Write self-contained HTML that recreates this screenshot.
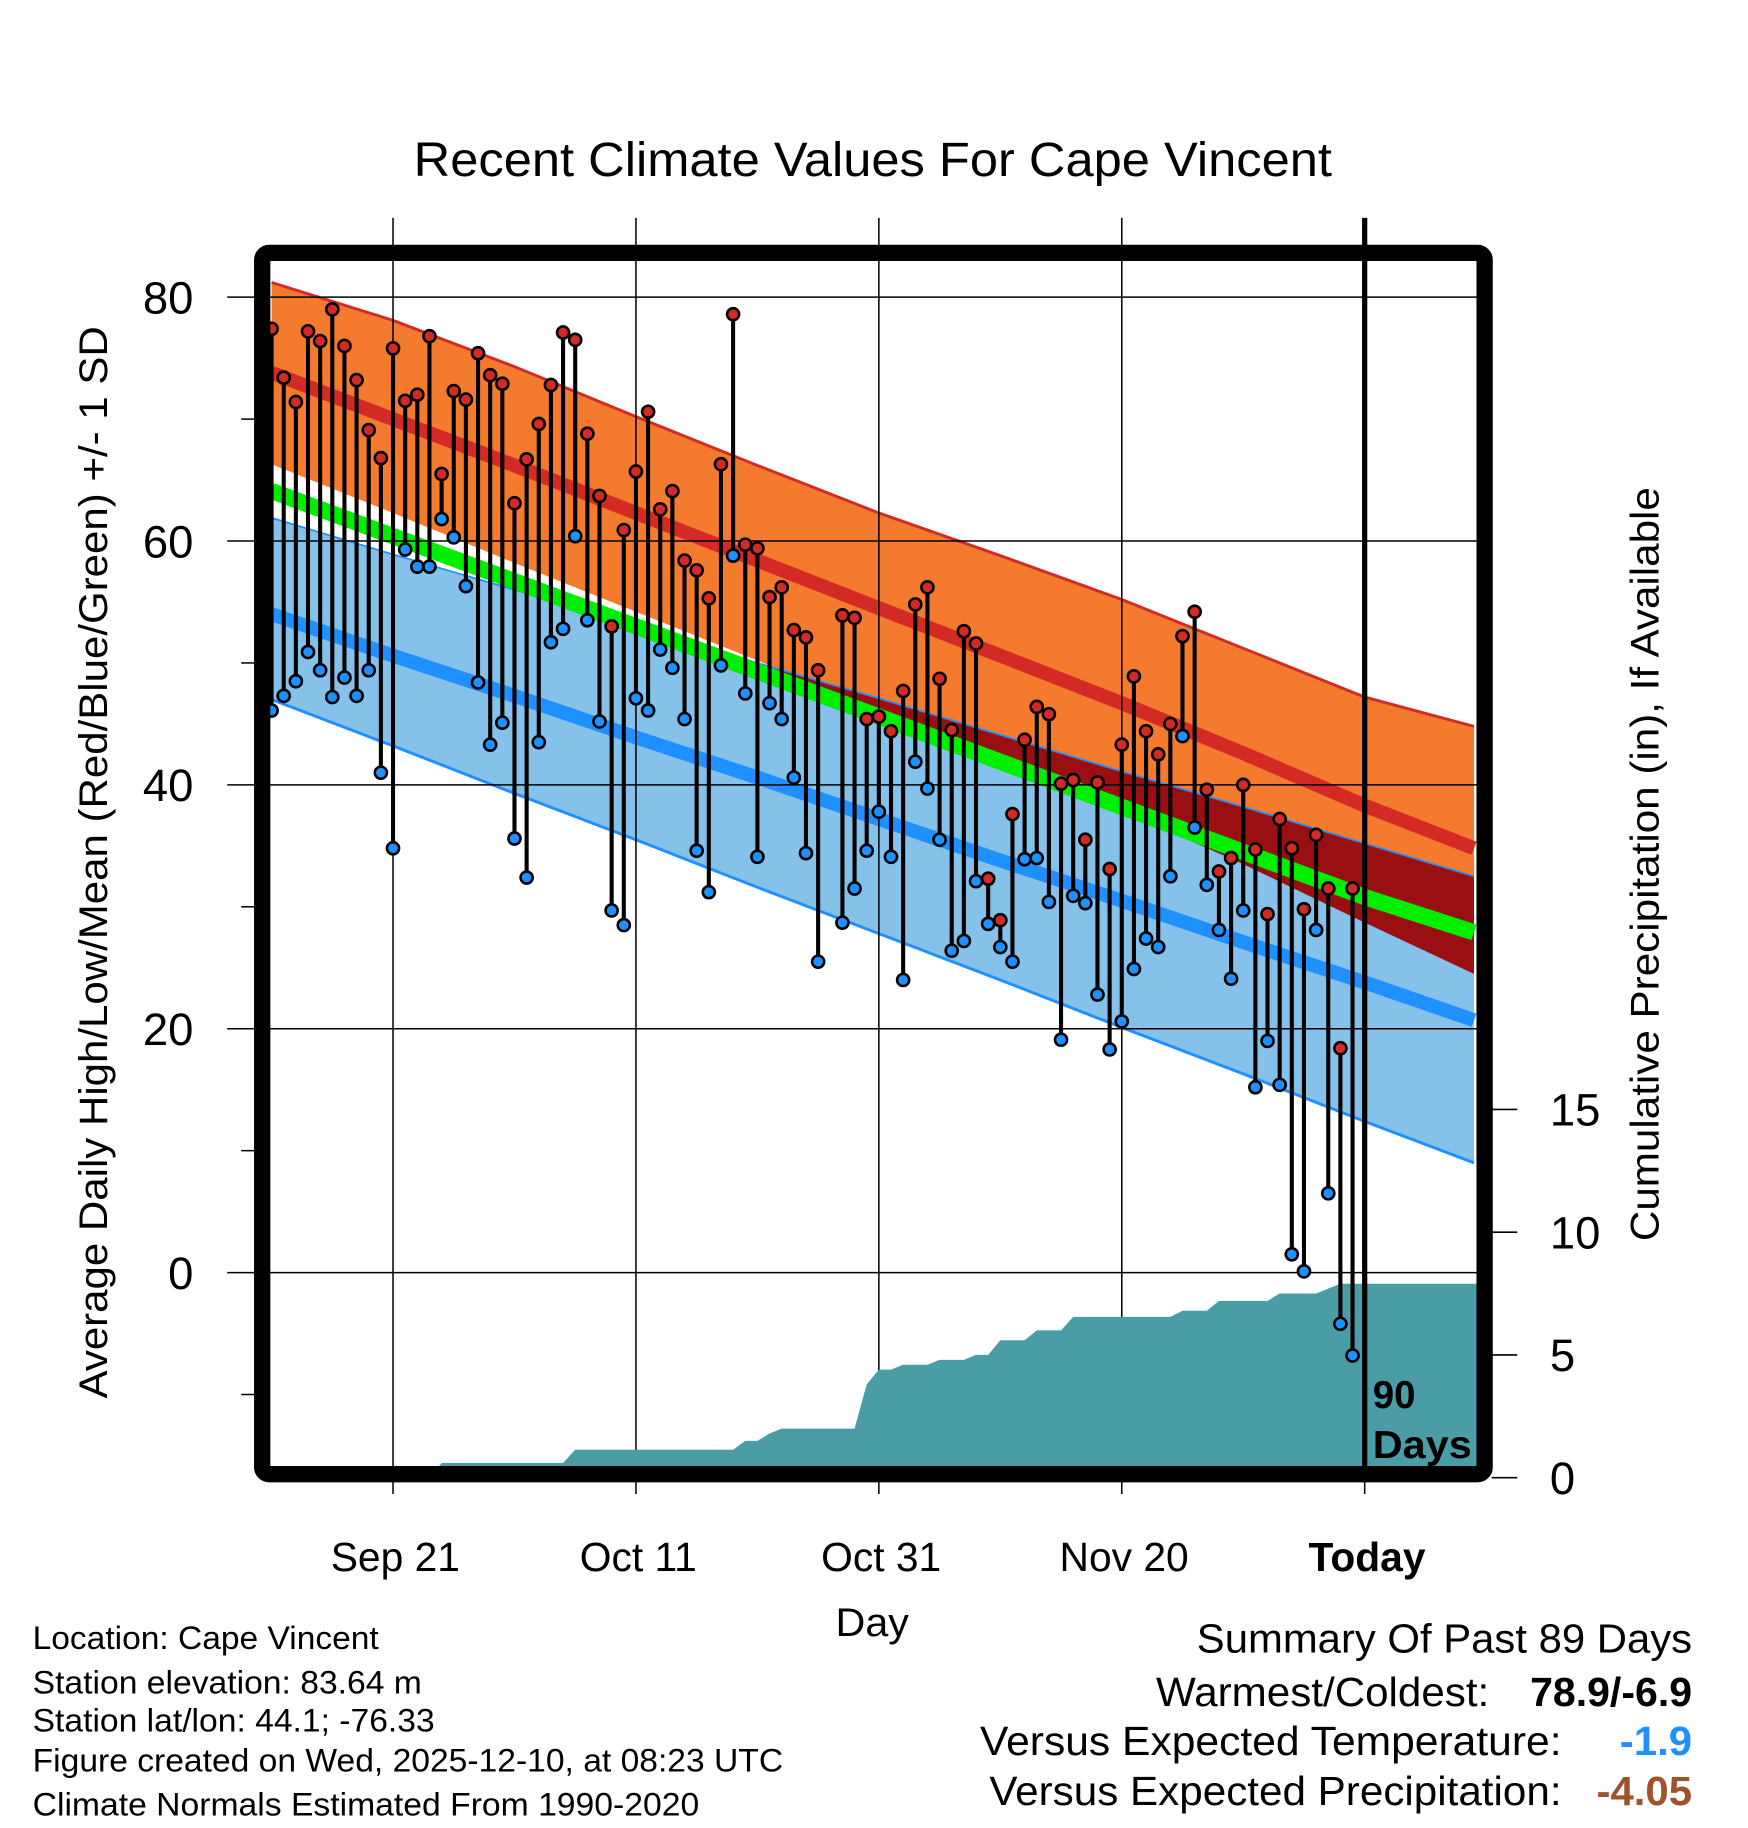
<!DOCTYPE html>
<html><head><meta charset="utf-8"><style>
html,body{margin:0;padding:0;background:#fff;}
svg{display:block;font-family:"Liberation Sans",Arial,sans-serif;}
</style></head><body>
<svg id="chart" width="1748" height="1828" viewBox="0 0 1500 1568.6" preserveAspectRatio="none" xmlns="http://www.w3.org/2000/svg">
<g id="bands"></g><g id="grid"></g><g id="precip"></g><g id="marks"></g><g id="frame"></g><g id="labels"></g>
</svg>
<script>
// ---- data ----
const highs=[77.4,73.4,71.4,77.2,76.4,79.0,76.0,73.2,69.1,66.8,75.8,71.5,72.0,76.8,65.5,72.3,71.6,75.4,73.6,72.9,63.1,66.7,69.6,72.8,77.1,76.5,68.8,63.7,53.0,60.9,65.7,70.6,62.6,64.1,58.4,57.6,55.3,66.3,78.6,59.7,59.4,55.4,56.2,52.7,52.1,49.4,null,53.9,53.7,45.4,45.6,44.4,47.7,54.8,56.2,48.7,44.5,52.6,51.6,32.3,28.9,37.6,43.7,46.4,45.8,40.1,40.4,35.5,40.2,33.1,43.3,48.9,44.4,42.5,45.0,52.2,54.2,39.6,32.9,34.0,40.0,34.7,29.4,37.2,34.8,29.8,35.9,31.5,18.4,31.5];
const lows=[46.1,47.3,48.5,50.9,49.4,47.2,48.8,47.3,49.4,41.0,34.8,59.3,57.9,57.9,61.8,60.3,56.3,48.4,43.3,45.1,35.6,32.4,43.5,51.7,52.8,60.4,53.5,45.2,29.7,28.5,47.1,46.1,51.1,49.6,45.4,34.6,31.2,49.8,58.8,47.5,34.1,46.7,45.4,40.6,34.4,25.5,null,28.7,31.5,34.6,37.8,34.1,24.0,41.9,39.7,35.5,26.4,27.2,32.1,28.6,26.7,25.5,33.9,34.0,30.4,19.1,30.9,30.3,22.8,18.3,20.6,24.9,27.4,26.7,32.5,44.0,36.5,31.8,28.1,24.1,29.7,15.2,19.0,15.4,1.5,0.1,28.1,6.5,-4.2,-6.8];
const normDays=[0,10,20,30,40,50,60,70,80,90,99];
const hiSDup=[81.2,78.1,74.3,70.2,66.2,62.3,58.8,55.2,51.2,47.2,44.8];
const hiMean=[73.8,70.0,66.2,62.3,58.4,54.5,50.6,46.7,42.6,38.3,34.8];
const hiSDlo=[66.3,62.3,58.2,54.2,50.2,46.2,42.1,37.9,33.5,28.7,24.5];
const avgMean=[64.1,60.4,56.7,53.0,49.3,45.6,41.9,38.2,34.5,30.8,27.9];
const loSDup=[61.9,58.9,56.0,53.0,50.0,47.1,44.1,41.1,38.2,35.2,32.5];
const loMean=[54.0,50.6,47.3,43.9,40.6,37.2,33.8,30.5,27.1,23.8,20.7];
const loSDlo=[47.0,43.2,39.3,35.5,31.6,27.8,24.0,20.1,16.3,12.4,9.0];
const precip=[0,0,0,0,0,0,0,0,0,0,0,0,0,0,0.6,0.6,0.6,0.6,0.6,0.6,0.6,0.6,0.6,0.6,0.6,1.14,1.14,1.14,1.14,1.14,1.14,1.14,1.14,1.14,1.14,1.14,1.14,1.14,1.14,1.5,1.5,1.8,2.0,2.0,2.0,2.0,2.0,2.0,2.0,3.8,4.4,4.4,4.6,4.6,4.6,4.8,4.8,4.8,5.0,5.0,5.6,5.6,5.6,6.0,6.0,6.0,6.55,6.55,6.55,6.55,6.55,6.55,6.55,6.55,6.55,6.8,6.8,6.8,7.2,7.2,7.2,7.2,7.2,7.5,7.5,7.5,7.5,7.7,7.9,7.9,7.9];
const yTicks=[0,20,40,60,80];
const yMinor=[-10,10,30,50,70];
const pTicks=[0,5,10,15];
const xTickDays=[10,30,50,70,90];
const xTickLabels=["Sep 21","Oct 11","Oct 31","Nov 20","Today"];
// ---- axes ----
const X0=232,X1=1268,D0=-0.1,D1=99.3;
const xs=d=>X0+(d-D0)/(D1-D0)*(X1-X0);
const ys=t=>1092-t*(1092-255)/80;
const yp=p=>1268-p*(1268-952)/15;
const NS="http://www.w3.org/2000/svg";
function mk(tag,attrs,parent){const e=document.createElementNS(NS,tag);for(const k in attrs)e.setAttribute(k,attrs[k]);parent.appendChild(e);return e;}
const bands=document.getElementById('bands'),grid=document.getElementById('grid'),pg=document.getElementById('precip'),marks=document.getElementById('marks'),frame=document.getElementById('frame'),labels=document.getElementById('labels');
function bandPath(top,bot){let p='';normDays.forEach((d,i)=>{p+=(i?'L':'M')+xs(d)+','+ys(top[i]);});for(let i=normDays.length-1;i>=0;i--)p+='L'+xs(normDays[i])+','+ys(bot[i]);return p+'Z';}
function linePath(v){return normDays.map((d,i)=>(i?'L':'M')+xs(d)+','+ys(v[i])).join('');}
let e;
e=mk('path',{d:bandPath(hiSDup,hiSDlo),fill:'#f47a2e'},bands);

e=mk('path',{d:bandPath(loSDup,loSDlo),fill:'#85c1e8'},bands);

const ovTop=loSDup.map((v,i)=>Math.min(v,hiSDup[i]));
const ovBot=ovTop.map((v,i)=>Math.min(v,Math.max(hiSDlo[i],loSDlo[i])));
e=mk('path',{d:bandPath(ovTop,ovBot),fill:'#990f12'},bands);

e=mk('path',{d:linePath(hiSDup),fill:'none',stroke:'#d42a25','stroke-width':2.5},bands);

e=mk('path',{d:linePath(loSDup),fill:'none',stroke:'#1e90ff','stroke-width':1.5},bands);

e=mk('path',{d:linePath(loSDlo),fill:'none',stroke:'#1e90ff','stroke-width':2.5},bands);

e=mk('path',{d:linePath(hiMean),fill:'none',stroke:'#d42a25','stroke-width':12},bands);

e=mk('path',{d:linePath(loMean),fill:'none',stroke:'#1e90ff','stroke-width':12},bands);

e=mk('path',{d:linePath(avgMean),fill:'none',stroke:'#00ee00','stroke-width':14},bands);

// grid
yTicks.forEach(t=>{
 e=mk('line',{x1:195,x2:X1,y1:ys(t),y2:ys(t),stroke:'#000','stroke-width':1.3},grid);
 
 e=mk('text',{x:166,y:ys(t)+14,'text-anchor':'end','font-size':39},labels);e.textContent=t;
 
});
yMinor.forEach(t=>{e=mk('line',{x1:207,x2:218,y1:ys(t),y2:ys(t),stroke:'#000','stroke-width':1.3},grid);
 });
xTickDays.forEach((d,i)=>{
 e=mk('line',{x1:xs(d),x2:xs(d),y1:187,y2:1282,stroke:'#000','stroke-width':1.3},grid);
 
 e=mk('text',{x:xs(d)+2,y:1348,'text-anchor':'middle','font-size':35,'font-weight':i==4?'bold':'normal'},labels);e.textContent=xTickLabels[i];
 
});
pTicks.forEach(p=>{
 e=mk('line',{x1:1280,x2:1302,y1:yp(p),y2:yp(p),stroke:'#000','stroke-width':1.3},grid);
 
 e=mk('text',{x:1330,y:yp(p)+14,'font-size':39},labels);e.textContent=p;
 
});
// precip area
let pp='M'+xs(0)+','+yp(0);
precip.forEach((v,i)=>{pp+='L'+xs(i)+','+yp(v);});
pp+='L'+X1+','+yp(precip[precip.length-1])+'L'+X1+','+yp(0)+'Z';
e=mk('path',{d:pp,fill:'#4a9ca5'},pg);

// marks
highs.forEach((h,i)=>{
 const l=lows[i];if(h==null||l==null)return;
 e=mk('line',{x1:xs(i),x2:xs(i),y1:ys(h),y2:ys(l),stroke:'#000','stroke-width':3.5},marks);
 
});
highs.forEach((h,i)=>{
 const l=lows[i];if(h==null||l==null)return;
 e=mk('circle',{cx:xs(i),cy:ys(h),r:5.2,fill:'#d42a25',stroke:'#000','stroke-width':2.2},marks);
 
 e=mk('circle',{cx:xs(i),cy:ys(l),r:5.2,fill:'#1e90ff',stroke:'#000','stroke-width':2.2},marks);
 
});
// frame
e=mk('rect',{x:225,y:217,width:1049,height:1048,rx:6,fill:'none',stroke:'#000','stroke-width':14},frame);

e=mk('line',{x1:xs(90),x2:xs(90),y1:187,y2:1268,stroke:'#000','stroke-width':4.5},frame);

</script>
<svg style="position:absolute;left:0;top:0" width="1748" height="1828" viewBox="0 0 1500 1568.6" preserveAspectRatio="none" xmlns="http://www.w3.org/2000/svg" font-family="Liberation Sans, Arial, sans-serif">
<text x="355" y="151" font-size="41" textLength="788" lengthAdjust="spacingAndGlyphs">Recent Climate Values For Cape Vincent</text>
<text x="1178" y="1208" font-size="33" font-weight="bold">90</text>
<text x="1178" y="1251" font-size="33" font-weight="bold" textLength="85" lengthAdjust="spacingAndGlyphs">Days</text>
<text x="717" y="1404" font-size="34" textLength="63" lengthAdjust="spacingAndGlyphs">Day</text>
<text transform="translate(92,1200) rotate(-90)" font-size="34" textLength="920" lengthAdjust="spacingAndGlyphs">Average Daily High/Low/Mean (Red/Blue/Green) +/- 1 SD</text>
<text transform="translate(1423,1065) rotate(-90)" font-size="34" textLength="647" lengthAdjust="spacingAndGlyphs">Cumulative Precipitation (in), If Available</text>
<g font-size="28" lengthAdjust="spacingAndGlyphs">
<text x="28" y="1415" textLength="297" lengthAdjust="spacingAndGlyphs">Location: Cape Vincent</text>
<text x="28" y="1453" textLength="334" lengthAdjust="spacingAndGlyphs">Station elevation: 83.64 m</text>
<text x="28" y="1486" textLength="345" lengthAdjust="spacingAndGlyphs">Station lat/lon: 44.1; -76.33</text>
<text x="28" y="1520" textLength="644" lengthAdjust="spacingAndGlyphs">Figure created on Wed, 2025-12-10, at 08:23 UTC</text>
<text x="28" y="1558" textLength="572" lengthAdjust="spacingAndGlyphs">Climate Normals Estimated From 1990-2020</text>
</g>
<g font-size="35">
<text x="1027" y="1418" textLength="425" lengthAdjust="spacingAndGlyphs">Summary Of Past 89 Days</text>
<text x="992" y="1464" textLength="286" lengthAdjust="spacingAndGlyphs">Warmest/Coldest:</text>
<text x="1313" y="1464" font-weight="bold" textLength="139" lengthAdjust="spacingAndGlyphs">78.9/-6.9</text>
<text x="841" y="1506" textLength="499" lengthAdjust="spacingAndGlyphs">Versus Expected Temperature:</text>
<text x="1390" y="1506" font-weight="bold" fill="#1e90ff" textLength="62" lengthAdjust="spacingAndGlyphs">-1.9</text>
<text x="849" y="1549" textLength="491" lengthAdjust="spacingAndGlyphs">Versus Expected Precipitation:</text>
<text x="1370" y="1549" font-weight="bold" fill="#a0522d" textLength="82" lengthAdjust="spacingAndGlyphs">-4.05</text>
</g>
</svg>
</body></html>
